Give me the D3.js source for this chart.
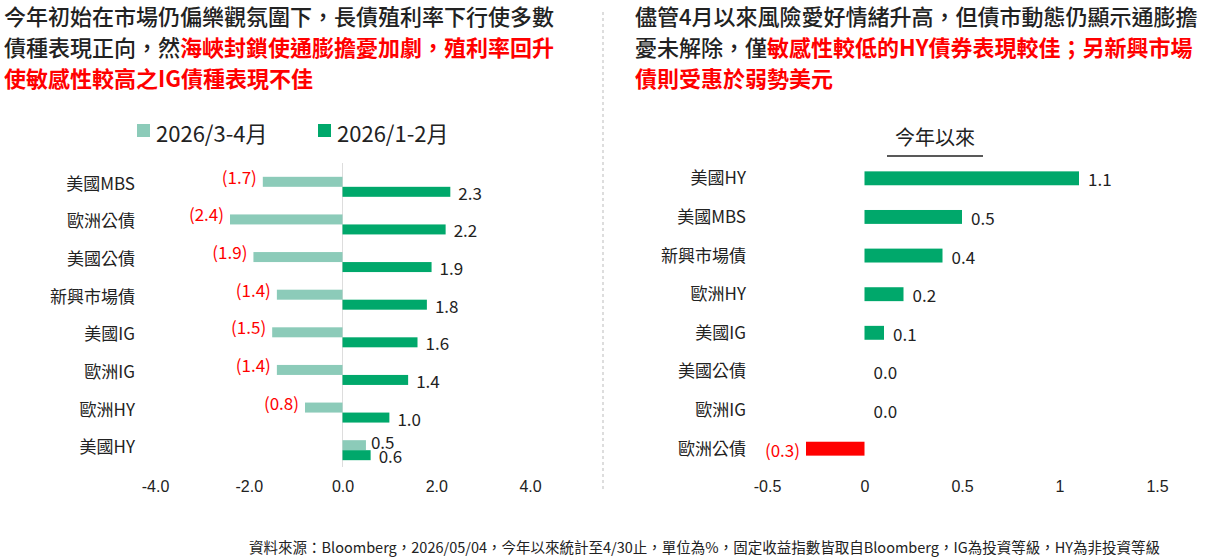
<!DOCTYPE html>
<html><head><meta charset="utf-8">
<script src="https://cdn.jsdelivr.net/npm/d3@7"></script>
<style>
body{margin:0;background:#fff;font-family:"Noto Sans CJK TC","Noto Sans",sans-serif;}
</style></head>
<body><svg id="canvas"></svg>
<script>
// left chart data
let leftCats = ['美國MBS','歐洲公債','美國公債','新興市場債','美國IG','歐洲IG','歐洲HY','美國HY'];
let leftMarApr = [-1.7,-2.4,-1.9,-1.4,-1.5,-1.4,-0.8,0.5];
let leftJanFeb = [2.3,2.2,1.9,1.8,1.6,1.4,1.0,0.6];
let leftTicks = [-4,-2,0,2,4];
// right chart data
let rightCats = ['美國HY','美國MBS','新興市場債','歐洲HY','美國IG','美國公債','歐洲IG','歐洲公債'];
let rightYtd = [1.1,0.5,0.4,0.2,0.1,0.0,0.0,-0.3];
let rightTicks = [-0.5,0,0.5,1,1.5];

let width = 1211, height = 558;
let light = '#8ccbb9', dark = '#00a86b';
let svg = d3.select('#canvas').attr('width', width).attr('height', height);

/*headlines*/
let head = (x, lines) => {
    lines.forEach((ln, i) => {
        let t = svg.append('text').attr('x', x).attr('y', 25 + i * 31)
            .attr('font-size', 22).attr('font-weight', 500).attr('fill', '#222');
        ln.forEach(p => t.append('tspan').text(p[0]).attr('fill', p[1] ? '#ff0000' : '#222')
            .attr('font-weight', p[1] ? 700 : 500));
    });
};
head(4, [[['今年初始在市場仍偏樂觀氛圍下，長債殖利率下行使多數']],
         [['債種表現正向，然'],['海峽封鎖使通膨擔憂加劇，殖利率回升',1]],
         [['使敏感性較高之IG債種表現不佳',1]]]);
head(635, [[['儘管4月以來風險愛好情緒升高，但債市動態仍顯示通膨擔']],
           [['憂未解除，僅'],['敏感性較低的HY債券表現較佳；另新興市場',1]],
           [['債則受惠於弱勢美元',1]]]);

/*divider*/
svg.append('line').attr('x1', 603).attr('x2', 603).attr('y1', 12).attr('y2', 492)
    .attr('stroke', '#bbb').attr('stroke-dasharray', '3,3');

let fmt = v => v < 0 ? '(' + Math.abs(v).toFixed(1) + ')' : v.toFixed(1);

/*left chart*/
let xL = d3.scaleLinear().domain([-4, 4]).range([155, 530]);
let yL = d3.scaleBand().domain(leftCats).range([167, 468]);
svg.append('line').attr('x1', xL(0)).attr('x2', xL(0)).attr('y1', 163).attr('y2', 467).attr('stroke', '#ddd');
let gL = svg.append('g');
leftCats.forEach((c, i) => {
    let yc = yL(c) + yL.bandwidth() / 2;
    let a = leftMarApr[i], b = leftJanFeb[i];
    gL.append('rect').attr('x', xL(Math.min(0, a))).attr('width', Math.abs(xL(a) - xL(0)))
        .attr('y', yc - 9).attr('height', 10).attr('fill', light);
    gL.append('rect').attr('x', xL(0)).attr('width', xL(b) - xL(0))
        .attr('y', yc + 1).attr('height', 10).attr('fill', dark);
    gL.append('text').attr('x', 135).attr('y', yc - 2).attr('dy', '0.35em').attr('text-anchor', 'end')
        .attr('font-size', 17).attr('fill', '#222').text(c);
    if (a < 0) gL.append('text').attr('x', xL(a) - 6).attr('y', yc - 8).attr('dy', '0.35em')
        .attr('text-anchor', 'end').attr('font-size', 17).attr('fill', '#ff0000').text(fmt(a));
    else gL.append('text').attr('x', xL(a) + 5).attr('y', yc - 6).attr('dy', '0.35em')
        .attr('font-size', 17).attr('fill', '#222').text(fmt(a));
    gL.append('text').attr('x', xL(b) + 8).attr('y', yc + 8).attr('dy', '0.35em')
        .attr('font-size', 17).attr('fill', '#222').text(fmt(b));
});
let axL = svg.append('g').attr('transform', 'translate(0,478)')
    .call(d3.axisBottom(xL).tickValues(leftTicks).tickFormat(d => d.toFixed(1)).tickSize(0));
axL.select('.domain').remove();
axL.selectAll('text').attr('font-size', 16).attr('fill', '#222').attr('font-family', 'inherit');

/*legend*/
let leg = [['2026/3-4月', light, 137], ['2026/1-2月', dark, 318]];
leg.forEach(l => {
    svg.append('rect').attr('x', l[2]).attr('y', 124).attr('width', 13).attr('height', 13).attr('fill', l[1]);
    svg.append('text').attr('x', l[2] + 19).attr('y', 142).attr('font-size', 22).attr('fill', '#222').text(l[0]);
});

/*right chart*/
let xR = d3.scaleLinear().domain([-0.5, 1.5]).range([767, 1157]);
let yR = d3.scaleBand().domain(rightCats).range([159, 468]).paddingInner(0.64).paddingOuter(0.32);
svg.append('text').attr('x', 935).attr('y', 145).attr('text-anchor', 'middle')
    .attr('font-size', 20).attr('fill', '#222').text('今年以來');
svg.append('line').attr('x1', 887).attr('x2', 983).attr('y1', 156).attr('y2', 156).attr('stroke', '#222').attr('stroke-width', 1.5);
rightCats.forEach((c, i) => {
    let v = rightYtd[i], yc = yR(c) + yR.bandwidth() / 2;
    svg.append('rect').attr('x', xR(Math.min(0, v))).attr('width', Math.abs(xR(v) - xR(0)))
        .attr('y', yR(c)).attr('height', yR.bandwidth()).attr('fill', v < 0 ? '#ff0000' : dark);
    svg.append('text').attr('x', 746).attr('y', yc).attr('dy', '0.35em').attr('text-anchor', 'end')
        .attr('font-size', 17).attr('fill', '#222').text(c);
    if (v < 0) svg.append('text').attr('x', xR(v) - 6).attr('y', yc + 2).attr('dy', '0.35em')
        .attr('text-anchor', 'end').attr('font-size', 17).attr('fill', '#ff0000').text(fmt(v));
    else svg.append('text').attr('x', xR(v) + 9).attr('y', yc + 2).attr('dy', '0.35em')
        .attr('font-size', 17).attr('fill', '#222').text(fmt(v));
});
let axR = svg.append('g').attr('transform', 'translate(0,478)')
    .call(d3.axisBottom(xR).tickValues(rightTicks).tickFormat(d => d === 0 ? '0' : String(d).replace('\u2212', '-')).tickSize(0));
axR.select('.domain').remove();
axR.selectAll('text').attr('font-size', 16).attr('fill', '#222').attr('font-family', 'inherit');

/*footnote*/
svg.append('text').attr('x', 1160).attr('y', 553).attr('text-anchor', 'end').attr('font-size', 14.5).attr('fill', '#222')
    .text('資料來源：Bloomberg，2026/05/04，今年以來統計至4/30止，單位為%，固定收益指數皆取自Bloomberg，IG為投資等級，HY為非投資等級');
</script></body></html>
